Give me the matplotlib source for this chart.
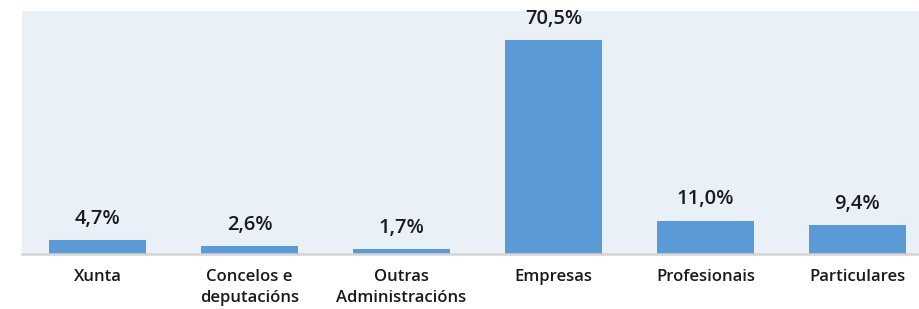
import matplotlib.pyplot as plt

# Datos
categorias = ["Xunta", "Concelos e\ndeputacións", "Outras\nAdministracións",
              "Empresas", "Profesionais", "Particulares"]
valores = [4.7, 2.6, 1.7, 70.5, 11.0, 9.4]

plt.rcParams['font.family'] = ['Open Sans', 'DejaVu Sans']

fig = plt.figure(figsize=(9.19, 3.09), dpi=100)
# o eixo sobresae pola dereita, igual que no orixinal
ax = fig.add_axes([21.5 / 919, (309 - 254) / 309, 912 / 919, 243 / 309])
ax.set_facecolor('#e9f0f8')

x = range(len(categorias))
barras = ax.bar(x, valores, width=0.64, color='#5b9bd5')
etiquetas = [f"{v:.1f}%".replace('.', ',') for v in valores]
ax.bar_label(barras, labels=etiquetas, padding=8, fontsize=14.5,
             fontweight='semibold', color='#1a1a1a')

ax.set_xlim(-0.5, len(categorias) - 0.5)
ax.set_ylim(0, 80)
ax.set_xticks(list(x))
ax.set_xticklabels(categorias, fontsize=12, fontweight='semibold',
                   color='#1a1a1a', linespacing=1.4, va='top')
ax.tick_params(axis='x', length=0, pad=11)
ax.set_yticks([])

for lado in ['top', 'right', 'left']:
    ax.spines[lado].set_visible(False)
ax.spines['bottom'].set_color('#d4d4d4')
ax.spines['bottom'].set_linewidth(1.8)

fig.savefig('out.png', dpi=100)
